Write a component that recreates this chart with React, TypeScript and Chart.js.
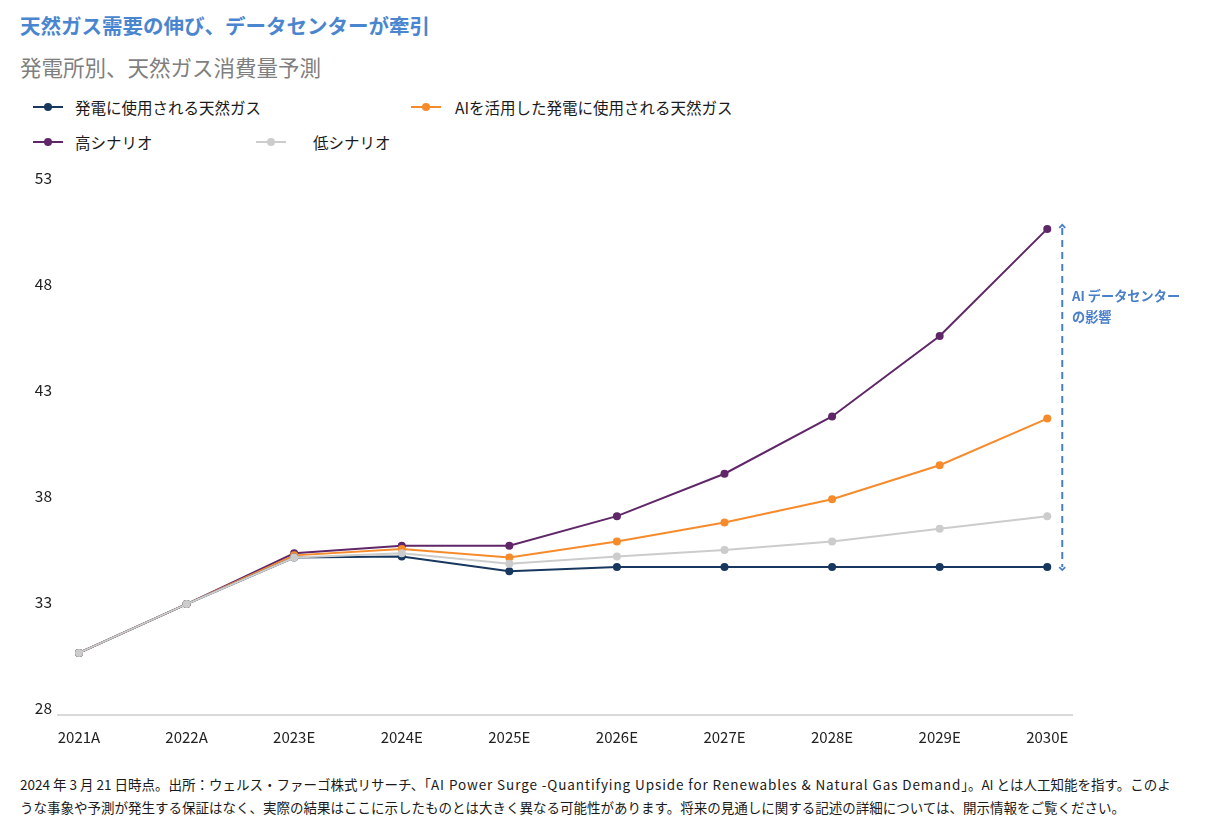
import React, { useEffect, useRef } from "react";
import { Chart, registerables } from "chart.js";

Chart.register(...registerables);

const categories = ["2021A", "2022A", "2023E", "2024E", "2025E", "2026E", "2027E", "2028E", "2029E", "2030E"];
const yTicks = [28, 33, 38, 43, 48, 53];

const gasForPower = [30.6, 32.9, 35.1, 35.15, 34.45, 34.65, 34.65, 34.65, 34.65, 34.65];
const gasWithAI = [30.6, 32.9, 35.2, 35.5, 35.1, 35.85, 36.75, 37.85, 39.45, 41.65];
const highScenario = [30.6, 32.9, 35.3, 35.65, 35.65, 37.05, 39.05, 41.75, 45.55, 50.6];
const lowScenario = [30.6, 32.9, 35.1, 35.3, 34.8, 35.15, 35.45, 35.85, 36.45, 37.05];

const seriesNames = [
  "発電に使用される天然ガス",
  "AIを活用した発電に使用される天然ガス",
  "高シナリオ",
  "低シナリオ",
];
const colors = ["#17375e", "#f68b2c", "#5f2768", "#cccccc"];

const FONT = "'Noto Sans CJK JP', 'Noto Sans', sans-serif";
const ANNO_COLOR = "#4a7fc9";

const annotationPlugin = {
  id: "aiImpact",
  afterDatasetsDraw(chart: any) {
    const { ctx, scales } = chart;
    const xs = scales.x;
    const ys = scales.y;
    const last = categories.length - 1;
    const x = xs.getPixelForValue(last) + 15;
    const top = ys.getPixelForValue(highScenario[last]) - 4;
    const bottom = ys.getPixelForValue(gasForPower[last]) + 3;
    ctx.save();
    ctx.strokeStyle = ANNO_COLOR;
    ctx.lineWidth = 2;
    ctx.setLineDash([7, 5]);
    ctx.beginPath();
    ctx.moveTo(x, top + 3);
    ctx.lineTo(x, bottom - 3);
    ctx.stroke();
    ctx.setLineDash([]);
    ctx.lineWidth = 1.8;
    ctx.beginPath();
    ctx.moveTo(x - 3, top + 3);
    ctx.lineTo(x, top);
    ctx.lineTo(x + 3, top + 3);
    ctx.stroke();
    ctx.beginPath();
    ctx.moveTo(x - 3, bottom - 3);
    ctx.lineTo(x, bottom);
    ctx.lineTo(x + 3, bottom - 3);
    ctx.stroke();
    ctx.restore();
  },
};

function LegendItem({ color, label, left, top, textLeft }: any) {
  return (
    <div style={{ position: "absolute", left, top, height: 20, width: 800 }}>
      <div style={{ position: "absolute", left: 0, top: 9, width: 30, height: 2, background: color }} />
      <div style={{ position: "absolute", left: 11, top: 6, width: 8, height: 8, borderRadius: 4, background: color }} />
      <div style={{ position: "absolute", left: textLeft, top: 0, lineHeight: "20px", fontSize: 15.5, color: "#1a1a1a", whiteSpace: "nowrap" }}>
        {label}
      </div>
    </div>
  );
}

export default function App() {
  const canvasRef = useRef<HTMLCanvasElement>(null);

  useEffect(() => {
    const canvas = canvasRef.current;
    if (!canvas) return;
    const series = [gasForPower, gasWithAI, highScenario, lowScenario];
    const orders = [1, 2, 3, 0];
    const chart = new Chart(canvas, {
      type: "line",
      data: {
        datasets: series.map((s, i) => ({
          label: seriesNames[i],
          data: s.map((v, j) => ({ x: j, y: v })),
          borderColor: colors[i],
          backgroundColor: colors[i],
          borderWidth: 2,
          pointRadius: 4,
          pointHoverRadius: 4,
          pointBorderWidth: 0,
          tension: 0,
          order: orders[i],
        })),
      },
      options: {
        responsive: false,
        animation: false,
        devicePixelRatio: 1,
        layout: { padding: { top: 18, right: 143, left: 0, bottom: 0 } },
        plugins: { legend: { display: false }, tooltip: { enabled: false } },
        scales: {
          x: {
            type: "linear",
            min: -0.195,
            max: 9.23,
            afterBuildTicks: (scale: any) => {
              scale.ticks = categories.map((_, i) => ({ value: i }));
            },
            afterFit: (scale: any) => {
              scale.height = 45;
            },
            grid: { display: false, drawTicks: false },
            border: { display: true, color: "#d9d9d9", width: 2 },
            ticks: {
              padding: 13,
              autoSkip: false,
              maxRotation: 0,
              color: "#222222",
              font: { family: FONT, size: 15 },
              callback: (v: any) => categories[v] ?? "",
            },
          },
          y: {
            min: 27.67,
            max: 53,
            afterBuildTicks: (scale: any) => {
              scale.ticks = yTicks.map((v) => ({ value: v }));
            },
            afterFit: (scale: any) => {
              scale.width = 58;
            },
            grid: { display: false, drawTicks: false },
            border: { display: false },
            ticks: {
              padding: 6,
              color: "#222222",
              font: { family: FONT, size: 15.5 },
            },
          },
        },
      },
      plugins: [annotationPlugin],
    });
    return () => chart.destroy();
  }, []);

  return (
    <div style={{ position: "fixed", left: 0, top: 0, width: 1215, height: 839, background: "#ffffff", fontFamily: FONT, overflow: "hidden" }}>
      <div style={{ position: "absolute", left: 20, top: 10, fontSize: 20.5, fontWeight: 700, color: "#4a86cf", lineHeight: "30px", whiteSpace: "nowrap" }}>
        天然ガス需要の伸び、データセンターが牽引
      </div>
      <div style={{ position: "absolute", left: 20, top: 52, fontSize: 21.5, color: "#7f7f7f", lineHeight: "30px", whiteSpace: "nowrap" }}>
        発電所別、天然ガス消費量予測
      </div>
      <LegendItem color={colors[0]} label={seriesNames[0]} left={33} top={97} textLeft={42} />
      <LegendItem color={colors[1]} label={seriesNames[1]} left={411} top={97} textLeft={44} />
      <LegendItem color={colors[2]} label={seriesNames[2]} left={33} top={132} textLeft={42} />
      <LegendItem color={colors[3]} label={seriesNames[3]} left={256} top={132} textLeft={57} />
      <canvas ref={canvasRef} width={1215} height={600} style={{ position: "absolute", left: 0, top: 160, width: 1215, height: 600 }} />
      <div style={{ position: "absolute", left: 1072, top: 285, fontSize: 13.2, fontWeight: 700, color: ANNO_COLOR, lineHeight: "21px", whiteSpace: "nowrap" }}>
        AI データセンター<br />の影響
      </div>
      <div style={{ position: "absolute", left: 20, top: 773, fontSize: 13.5, color: "#1a1a1a", lineHeight: "23px", whiteSpace: "nowrap" }}>
        2024 年 3 月 21 日時点。出所：ウェルス・ファーゴ株式リサーチ、「<span style={{ letterSpacing: "0.9px" }}>AI Power Surge -Quantifying Upside for Renewables &amp; Natural Gas Demand</span>」。AI とは人工知能を指す。このよ<br />
        うな事象や予測が発生する保証はなく、実際の結果はここに示したものとは大きく異なる可能性があります。将来の見通しに関する記述の詳細については、開示情報をご覧ください。
      </div>
    </div>
  );
}
